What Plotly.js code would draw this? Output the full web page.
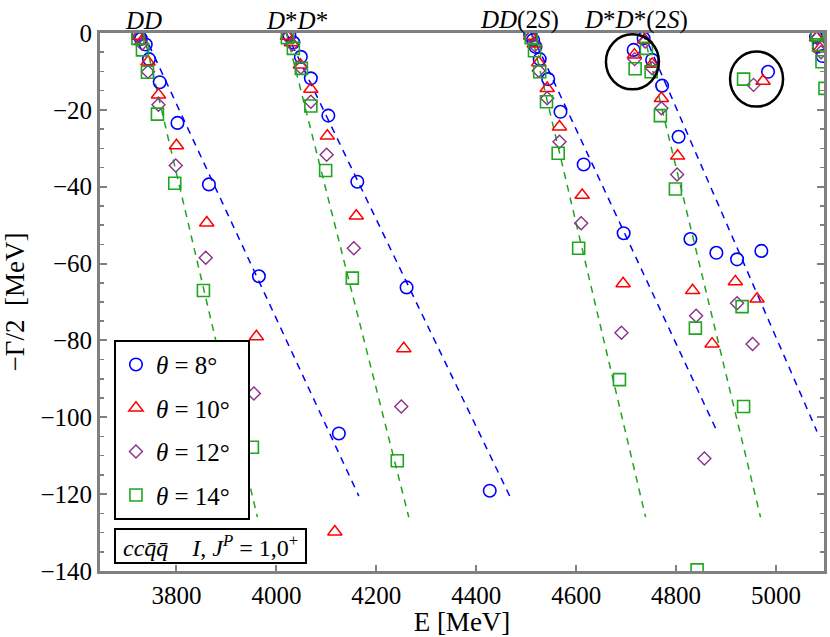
<!DOCTYPE html>
<html>
<head>
<meta charset="utf-8">
<script src="https://cdn.plot.ly/plotly-3.0.1.min.js"></script>
<style>html,body{margin:0;padding:0;background:#fff;}#chart{width:830px;height:637px;}</style>
</head>
<body>
<div id="chart"></div>
<script>
// theta = 8 deg (blue circles): E [MeV], -Gamma/2 [MeV]
const theta8E = [3724, 3729, 3738.6, 3745, 3766.6, 3802, 3865, 3965, 4125,
  4026, 4034, 4049, 4069, 4104, 4162, 4260.6, 4427,
  4508, 4514, 4518.6, 4527, 4544, 4568.6, 4615, 4695,
  4715, 4735, 4752, 4772, 4805, 4828.6, 4880.6, 4922, 4970.6, 4984,
  5080, 5086, 5093];
const theta8G = [-0.5, -1.5, -3, -6.8, -12.8, -23.4, -39.4, -63.3, -104.2,
  -0.6, -2.5, -6.2, -11.8, -21.5, -38.7, -66.2, -119.1,
  -0.5, -1.8, -3.6, -6.8, -12, -20.5, -34.2, -52.1,
  -4.4, -1.4, -7, -13.7, -27, -53.6, -57.2, -58.9, -56.7, -10.1,
  -1, -3.5, -6];

// theta = 10 deg (red triangles)
const theta10E = [3724, 3730, 3743, 3764, 3800, 3860.6, 3960, 4117,
  4022, 4030, 4048, 4069, 4102, 4160, 4255,
  4509, 4516, 4525, 4542, 4566.6, 4612, 4694,
  4716.6, 4737, 4752, 4770.6, 4803, 4833, 4872, 4918.6, 4962, 4974,
  5081, 5088];
const theta10G = [-0.8, -2.2, -7.5, -16.1, -29.3, -49.4, -79, -129.8,
  -0.8, -2.5, -8.3, -14.6, -26.8, -47.6, -82.1,
  -0.8, -2.8, -7.7, -14.4, -24.4, -42.2, -65.2,
  -5.7, -1.8, -8.1, -17, -32, -67, -80.9, -64.7, -69.2, -12.5,
  -1.2, -4];

// theta = 12 deg (purple diamonds)
const theta12E = [3724, 3731, 3743, 3764, 3798.6, 3858.6, 3955,
  4023, 4032, 4049, 4069, 4100.6, 4155, 4250,
  4510, 4517, 4525, 4542, 4566.6, 4610, 4690.6,
  4717, 4738, 4752, 4770.6, 4802, 4840, 4856.6, 4922, 4953, 4955,
  5082, 5090];
const theta12G = [-1, -2.8, -10.1, -18.7, -34.5, -58.5, -93.8,
  -1, -3, -9, -17.9, -31.7, -56, -97.2,
  -1, -3.2, -9.8, -17, -28.3, -49.5, -78,
  -6.8, -2.2, -9.2, -19.6, -36.8, -73.6, -110.7, -70.3, -80.9, -13.5,
  -1.4, -5];

// theta = 14 deg (green squares)
const theta14E = [3723, 3732, 3742, 3762, 3796.6, 3854, 3952,
  4022, 4034, 4050, 4069, 4098.6, 4152, 4242,
  4510, 4516.6, 4527, 4540.6, 4564, 4605, 4686.6,
  4718, 4740.6, 4750, 4768.6, 4798.6, 4838.6, 4842, 4932, 4935, 4935,
  5082, 5085, 5092, 5098];
const theta14G = [-1.4, -4.4, -10.2, -21.1, -39.1, -67, -107.8,
  -1.2, -4, -9.2, -19, -35.8, -63.8, -111.3,
  -1.2, -4.6, -10.1, -17.9, -31.3, -56, -90.2,
  -9.3, -4, -10.1, -21.5, -40.6, -76.8, -139.7, -71.2, -97.2, -12,
  -0.5, -3.1, -7.5, -14.4];

// dashed rotation lines (start at threshold, end point), null separates lines
const line8E = [3734, 4165, null, 4020, 4467, null, 4510, 4882, null, 4735, 5082];
const line8G = [0, -120.5, null, 0, -120.5, null, 0, -103.7, null, 0, -103.7];
const line14E = [3734, 3962, null, 4020, 4265, null, 4510, 4739, null, 4735, 4969];
const line14G = [0, -126, null, 0, -126, null, 0, -126, null, 0, -126];

// threshold labels
const thresholdLabels = ['<i>DD</i>', '<i>D</i>*<i>D</i>*', '<i>DD</i>(2<i>S</i>)', '<i>D</i>*<i>D</i>*(2<i>S</i>)'];
const thresholdLabelE = [3734.6, 4040.6, 4485.6, 4720.6];

// circled states: centre E, centre -Gamma/2
const circleE = [4712.6, 4961];
const circleG = [-7.5, -12];

const NB = '\u00a0';
const seriesNames = ['<i>θ</i> = 8°', '<i>θ</i> = 10°', '<i>θ</i> = 12°', '<i>θ</i> = 14°'];

const BLUE = '#0000ff', RED = '#ff0000', PURPLE = '#8a2f8a', GREEN = '#1fa51f';
const FONT = 'Liberation Serif, Times New Roman, serif';

const traces = [
  {x: line8E, y: line8G, mode: 'lines', line: {color: BLUE, width: 1.5, dash: '7px,6px'}, showlegend: false, hoverinfo: 'skip'},
  {x: line14E, y: line14G, mode: 'lines', line: {color: GREEN, width: 1.5, dash: '7px,6px'}, showlegend: false, hoverinfo: 'skip'},
  {x: theta8E, y: theta8G, mode: 'markers', name: seriesNames[0] + NB + NB, legendgroup: 'a',
   marker: {symbol: 'circle-open', size: 12.5, color: BLUE, line: {width: 1.6, color: BLUE}}},
  {x: theta10E, y: theta10G, mode: 'markers', name: seriesNames[1] + NB + NB, legendgroup: 'b',
   marker: {symbol: 'triangle-up-open', size: 12.5, color: RED, line: {width: 1.5, color: RED}}},
  {x: theta12E, y: theta12G, mode: 'markers', name: seriesNames[2] + NB + NB, legendgroup: 'c',
   marker: {symbol: 'diamond-open', size: 10, color: PURPLE, line: {width: 1.4, color: PURPLE}}},
  {x: theta14E, y: theta14G, mode: 'markers', name: seriesNames[3] + NB + NB, legendgroup: 'd',
   marker: {symbol: 'square-open', size: 12, color: GREEN, line: {width: 1.6, color: GREEN}}}
];

const annotations = thresholdLabels.map((t, i) => ({
  text: t, x: thresholdLabelE[i], xref: 'x', y: 1, yref: 'paper', yanchor: 'bottom', xanchor: 'center',
  showarrow: false, yshift: -3, font: {family: FONT, size: 25, color: '#000'}
}));
annotations.push({
  text: NB + '<i>ccq̄q̄</i>' + NB + NB + NB + NB + '<i>I</i>,' + NB + '<i>J</i><sup><i>P</i></sup> = 1,0<sup>+</sup>' + NB,
  x: (113.5 - 99) / 726, xref: 'paper', xanchor: 'left',
  y: (571.5 - 564) / 538.5, yref: 'paper', yanchor: 'bottom',
  showarrow: false, bgcolor: '#fff', bordercolor: '#000', borderwidth: 2, borderpad: 1,
  font: {family: FONT, size: 24, color: '#000'}
});

const shapes = circleE.map((e, i) => ({
  type: 'circle', xref: 'x', yref: 'y', xsizemode: 'pixel', ysizemode: 'pixel',
  xanchor: e, yanchor: circleG[i], x0: -26.5, x1: 26.5, y0: -27.5, y1: 27.5,
  line: {color: '#000', width: 2.5}
}));

const layout = {
  width: 830, height: 637,
  margin: {l: 100, r: 6, t: 33, b: 66},
  paper_bgcolor: '#fff', plot_bgcolor: '#fff',
  font: {family: FONT, size: 25, color: '#000'},
  xaxis: {
    range: [3647, 5096], showgrid: false, zeroline: false,
    tickvals: [3800, 4000, 4200, 4400, 4600, 4800, 5000],
    ticks: 'inside', ticklen: 6, tickwidth: 2, tickcolor: '#808080',
    showline: true, linecolor: '#808080', linewidth: 3, mirror: true,
    tickfont: {family: FONT, size: 25},
    title: {text: 'E [MeV]', font: {family: FONT, size: 27}, standoff: 3}
  },
  yaxis: {
    range: [-140, 0], showgrid: false, zeroline: false,
    dtick: 20, ticks: 'inside', ticklen: 7, tickwidth: 2, tickcolor: '#808080',
    minor: {dtick: 5, ticks: 'inside', ticklen: 4, tickwidth: 1.5, tickcolor: '#808080'},
    showline: true, linecolor: '#808080', linewidth: 3, mirror: 'ticks',
    tickfont: {family: FONT, size: 25},
    title: {text: '−Γ/2  [MeV]', font: {family: FONT, size: 27}, standoff: 8}
  },
  legend: {
    x: (113 - 99) / 726, y: (571.5 - 340) / 538.5, xanchor: 'left', yanchor: 'top',
    bgcolor: '#fff', bordercolor: '#000', borderwidth: 2,
    font: {family: FONT, size: 25, color: '#000'},
    tracegroupgap: 8, itemwidth: 30
  },
  annotations: annotations,
  shapes: shapes
};

Plotly.newPlot('chart', traces, layout, {displayModeBar: false, staticPlot: true});
</script>
</body>
</html>
